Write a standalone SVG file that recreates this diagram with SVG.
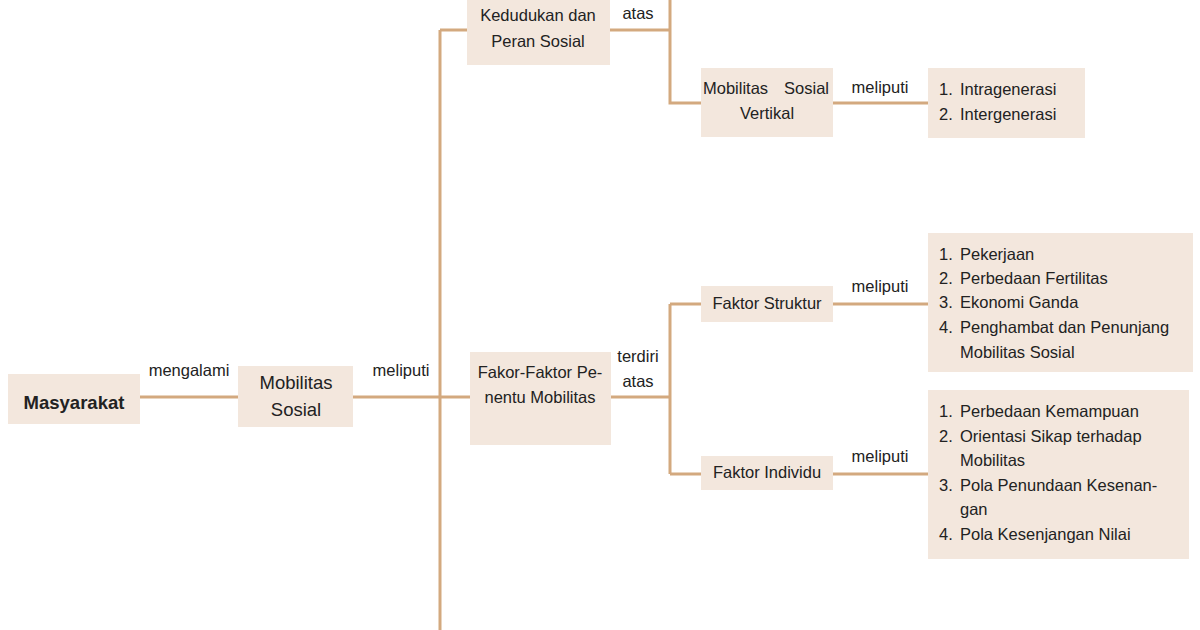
<svg xmlns="http://www.w3.org/2000/svg" width="1200" height="630" viewBox="0 0 1200 630">
<style>
.box{fill:#f3e7dd}
.c{fill:none;stroke:#d3a97f;stroke-width:3}
text{font-family:"Liberation Sans",Arial,sans-serif;font-size:16.5px;fill:#222}
.m{text-anchor:middle}
.e{text-anchor:end}
.b{font-weight:bold;font-size:18.5px}
.l{font-size:18.5px}
</style>
<rect width="1200" height="630" fill="#fff"/>
<g id="connectors">
<path class="c" d="M140 397H238M353 397H470M440 30V630M440 30H467M610 30H670M670 0V103H701M833 103H928M611 397H670M670 304V474M670 304H701M670 474H701M833 304H928M833 474H928"/>
<text x="189" y="376" class="m">mengalami</text>
<text x="401" y="376" class="m">meliputi</text>
<text x="638" y="19" class="m">atas</text>
<text x="880" y="93" class="m">meliputi</text>
<text x="638" y="362" class="m">terdiri</text>
<text x="638" y="387" class="m">atas</text>
<text x="880" y="292" class="m">meliputi</text>
<text x="880" y="462" class="m">meliputi</text>
</g>
<g id="masyarakat"><rect class="box" x="8" y="374" width="132" height="50"/><text x="74" y="409" class="m b">Masyarakat</text></g>
<g id="mobilitas-sosial"><rect class="box" x="238" y="366" width="115" height="61"/><text x="296" y="389" class="m l">Mobilitas</text><text x="296" y="416" class="m l">Sosial</text></g>
<g id="kedudukan"><rect class="box" x="467" y="-2" width="143" height="67"/><text x="538" y="21" class="m">Kedudukan dan</text><text x="538" y="47" class="m">Peran Sosial</text></g>
<g id="vertikal"><rect class="box" x="701" y="68" width="132" height="69"/><text x="703" y="94">Mobilitas</text><text x="829" y="94" class="e">Sosial</text><text x="767" y="119" class="m">Vertikal</text></g>
<g id="list-vertikal"><rect class="box" x="928" y="68" width="157" height="70"/><text x="939" y="95">1.</text><text x="960" y="95">Intragenerasi</text><text x="939" y="120">2.</text><text x="960" y="120">Intergenerasi</text></g>
<g id="faktor-penentu"><rect class="box" x="470" y="352" width="141" height="93"/><text x="540" y="378" class="m">Fakor-Faktor Pe-</text><text x="540" y="403" class="m">nentu Mobilitas</text></g>
<g id="faktor-struktur"><rect class="box" x="701" y="286" width="132" height="36"/><text x="767" y="309" class="m">Faktor Struktur</text></g>
<g id="faktor-individu"><rect class="box" x="701" y="456" width="132" height="34"/><text x="767" y="478" class="m">Faktor Individu</text></g>
<g id="list-struktur"><rect class="box" x="928" y="233" width="265" height="139"/>
<text x="939" y="260">1.</text><text x="960" y="260">Pekerjaan</text>
<text x="939" y="284">2.</text><text x="960" y="284">Perbedaan Fertilitas</text>
<text x="939" y="308">3.</text><text x="960" y="308">Ekonomi Ganda</text>
<text x="939" y="333">4.</text><text x="960" y="333">Penghambat dan Penunjang</text>
<text x="960" y="358">Mobilitas Sosial</text></g>
<g id="list-individu"><rect class="box" x="928" y="390" width="261" height="169"/>
<text x="939" y="417">1.</text><text x="960" y="417">Perbedaan Kemampuan</text>
<text x="939" y="442">2.</text><text x="960" y="442">Orientasi Sikap terhadap</text>
<text x="960" y="466">Mobilitas</text>
<text x="939" y="491">3.</text><text x="960" y="491">Pola Penundaan Kesenan-</text>
<text x="960" y="515">gan</text>
<text x="939" y="540">4.</text><text x="960" y="540">Pola Kesenjangan Nilai</text></g>
</svg>
